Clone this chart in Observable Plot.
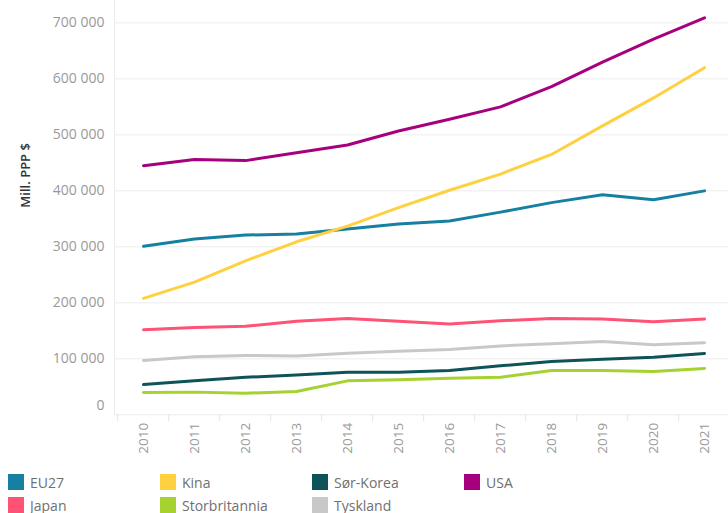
<!DOCTYPE html>
<html><head><meta charset="utf-8">
<script src="https://cdn.jsdelivr.net/npm/d3@7"></script>
<script src="https://cdn.jsdelivr.net/npm/@observablehq/plot@0.6"></script>
<style>
body{margin:0;background:#fff;font-family:"Open Sans",Lato,sans-serif;}
#chart svg{display:block;overflow:visible;font-family:"Open Sans",Lato,sans-serif;}
#chart [aria-label="y-axis tick label"], #chart [aria-label="x-axis tick label"]{fill:#999;}
.legend{display:grid;grid-template-columns:repeat(4,152px);row-gap:7px;margin-left:8px;margin-top:9px;}
.item{display:flex;align-items:center;font-size:14px;color:#707070;height:16px;}
.sw{width:16px;height:16px;margin-right:6px;flex:none;}
</style></head><body>
<div id="chart"></div>
<script>
const years = [2010,2011,2012,2013,2014,2015,2016,2017,2018,2019,2020,2021];
const eu27 = [301000,314000,321000,323000,332000,341000,346000,362000,379000,393000,384000,400000];
const kina = [208000,237000,275000,309000,337000,370000,401000,430000,465000,516000,566000,620000];
const sorKorea = [54000,61000,67000,71000,76000,76000,79000,87500,95000,99000,103000,109500];
const usa = [445000,456000,454000,468000,482000,507000,528000,550000,586000,630000,671000,709000];
const japan = [152000,156000,158000,167000,172000,167000,162000,168000,172000,171000,166000,171000];
const storbritannia = [40000,40500,38600,41600,60600,62500,65400,67000,79000,79000,77400,82700];
const tyskland = [97000,103500,106000,105000,110000,113500,116600,123000,127000,131000,125000,128500];

const seriesNames = ["EU27","Kina","Sør-Korea","USA","Japan","Storbritannia","Tyskland"];
const seriesValues = [eu27,kina,sorKorea,usa,japan,storbritannia,tyskland];
const seriesColors = ["#1580a2","#ffd03f","#0e5358","#a6007f","#ff5275","#a5d22f","#c8c9c7"];
const yTicks = [0,100000,200000,300000,400000,500000,600000,700000];
const yLabel = "Mill. PPP $";

const table = seriesNames.flatMap((s,i)=>years.map((y,j)=>({series:s, year:y, value:seriesValues[i][j]})));
const fmt = d3.formatLocale({decimal:",", thousands:" ", grouping:[3], currency:["",""]}).format(",d");
const halfBand = (707.4-139.8)/(years.length-1)/2;

const chart = Plot.plot({
  width: 728, height: 465,
  marginLeft: 114, marginRight: 0, marginTop: 0, marginBottom: 50.7,
  x: {type:"point", domain: years, range:[139.8, 707.4], padding:0},
  y: {domain:[0, 740000], range:[414.3, 0]},
  color: {domain: seriesNames, range: seriesColors},
  marks: [
    Plot.gridY(yTicks, {stroke:"#ececec", strokeOpacity:1}),
    Plot.frame({anchor:"left", stroke:"#ececec", strokeOpacity:1}),
    Plot.axisY({ticks: yTicks.filter(d=>d>0), tickFormat: fmt, tickSize:0, tickPadding:10, fontSize:14, label:null}),
    Plot.axisY({ticks: yTicks.filter(d=>d===0), tickFormat: fmt, tickSize:0, tickPadding:10, fontSize:14, dy:-9, label:null}),
    Plot.text([yLabel], {frameAnchor:"left", dx:-89, rotate:-90, fill:"#333", fontWeight:600, fontSize:13}),
    Plot.axisX({ticks: years, tickFormat: d=>String(d), tickRotate:-90, tickSize:0, tickPadding:8, fontSize:13.5, label:null}),
    Plot.axisX({ticks: years, tickFormat: ()=>"", tickSize:7, dx:-halfBand, stroke:"#e6e6e6", label:null}),
    Plot.line(table, {x:"year", y:"value", z:"series", stroke:"series", strokeWidth:3, strokeLinejoin:"round", strokeLinecap:"round"})
  ]
});
document.getElementById("chart").appendChild(chart);

const legend = d3.select("body").append("div").attr("class","legend");
const items = legend.selectAll(".item").data(seriesNames).join("div").attr("class","item");
items.append("div").attr("class","sw").style("background",(d,i)=>seriesColors[i]);
items.append("span").text(d=>d);
</script>
</body></html>
